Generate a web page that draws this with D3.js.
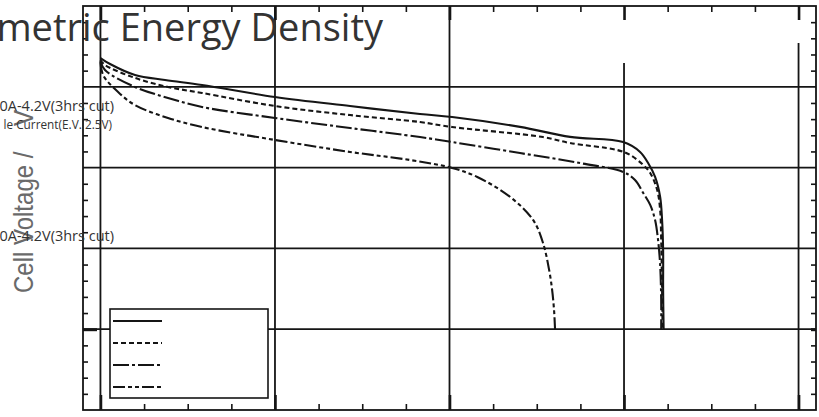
<!DOCTYPE html>
<html><head><meta charset="utf-8">
<script src="https://cdn.jsdelivr.net/npm/d3@7"></script>
<style>body{margin:0;background:#fff}svg{display:block}</style>
</head><body>
<svg id="c" width="819" height="417"></svg>
<script>
// ---- data (capacity mAh, cell voltage V) ----
const seriesNames = ["Series A", "Series B", "Series C", "Series D"];
const capA = [0, 55, 198, 370, 582, 1000, 1430, 1831, 2015, 2404, 2691, 2995, 3092, 3138, 3178, 3207, 3218, 3224, 3224, 3227];
const voltA = [4.178, 4.141, 4.073, 4.042, 4.011, 3.937, 3.881, 3.832, 3.813, 3.752, 3.690, 3.658, 3.597, 3.528, 3.442, 3.318, 3.176, 2.990, 2.743, 2.495];
const capB = [0, 26, 198, 387, 582, 1000, 1430, 1831, 2015, 2536, 2691, 2960, 3035, 3110, 3150, 3190, 3207, 3213, 3218, 3221];
const voltB = [4.166, 4.135, 4.055, 3.999, 3.962, 3.881, 3.825, 3.782, 3.751, 3.689, 3.652, 3.609, 3.578, 3.516, 3.467, 3.361, 3.238, 3.052, 2.743, 2.495];
const capC = [0, 26, 198, 387, 582, 1000, 1430, 1831, 2015, 2404, 2748, 2995, 3063, 3110, 3150, 3178, 3195, 3207, 3213, 3213];
const voltC = [4.160, 4.104, 3.999, 3.931, 3.875, 3.807, 3.745, 3.689, 3.658, 3.590, 3.528, 3.473, 3.423, 3.343, 3.269, 3.176, 3.052, 2.897, 2.681, 2.495];
const capD = [0, 15, 101, 198, 387, 582, 1000, 1430, 1774, 2015, 2159, 2348, 2479, 2536, 2571, 2588, 2599, 2605];
const voltD = [4.153, 4.073, 3.968, 3.887, 3.807, 3.751, 3.671, 3.597, 3.547, 3.498, 3.442, 3.318, 3.176, 3.033, 2.866, 2.743, 2.619, 2.495];

const xMajorTicks = [0, 1000, 2000, 3000, 4000];
const xMinorTicks = [250, 500, 750, 1250, 1500, 1750, 2250, 2500, 2750, 3250, 3500, 3750];
const yMajorTicks = [2.5, 3.0, 3.5, 4.0];
const yMinorTicks = [2.1,2.2,2.3,2.4,2.6,2.7,2.8,2.9,3.1,3.2,3.3,3.4,3.6,3.7,3.8,3.9,4.1,4.2,4.3,4.4];
// top end of the vertical grid lines (V); some are broken at the top in the original
const xGridTopV = [4.5, 4.5, 4.5, 4.147, 4.271];

const titleText = "metric Energy Density";
const noteTexts = ["0A-4.2V(3hrs cut)", "le Current(E.V. 2.5V)", "0A-4.2V(3hrs cut)"];
const yLabel = "Cell Voltage /";
const yUnit = "V";

// ---- layout ----
const L = 83, R = 816, T = 6, B = 410;
const svg = d3.select("#c");
const x = d3.scaleLinear().domain([-100, 4100]).range([L, R]);
const y = d3.scaleLinear().domain([2.0, 4.5]).range([B, T]);
const ink = "#151515";

// grid
svg.append("g").selectAll("line").data(xMajorTicks).join("line")
  .attr("x1", d => x(d)).attr("x2", d => x(d))
  .attr("y1", (d, i) => y(xGridTopV[i])).attr("y2", B)
  .attr("stroke", ink).attr("stroke-width", 1.8);
svg.append("g").selectAll("line").data(yMajorTicks).join("line")
  .attr("x1", L).attr("x2", R).attr("y1", d => y(d)).attr("y2", d => y(d))
  .attr("stroke", ink).attr("stroke-width", 1.8);

// axes (ticks pointing inward)
function styleAxis(g) {
  g.select(".domain").remove();
  g.selectAll("line").attr("stroke", ink).attr("stroke-width", 1.6);
}
svg.append("g").attr("transform", `translate(0,${B})`)
  .call(d3.axisBottom(x).tickValues(xMinorTicks).tickSize(-6).tickFormat("")).call(styleAxis);
svg.append("g").attr("transform", `translate(0,${B})`)
  .call(d3.axisBottom(x).tickValues(xMajorTicks).tickSize(-15).tickFormat("")).call(styleAxis)
  .selectAll("line").attr("stroke-width", 2.6);
svg.append("g").attr("transform", `translate(0,${T})`)
  .call(d3.axisTop(x).tickValues(xMinorTicks).tickSize(-6).tickFormat("")).call(styleAxis);
svg.append("g").attr("transform", `translate(0,${T})`)
  .call(d3.axisTop(x).tickValues(xMajorTicks).tickSize(-14).tickFormat("")).call(styleAxis)
  .selectAll("line").attr("stroke-width", 2.6);
svg.append("g").attr("transform", `translate(${L},0)`)
  .call(d3.axisLeft(y).tickValues(yMinorTicks).tickSize(-5).tickFormat("")).call(styleAxis);
svg.append("g").attr("transform", `translate(${L},0)`)
  .call(d3.axisLeft(y).tickValues([2.5]).tickSize(-14).tickFormat("")).call(styleAxis)
  .selectAll("line").attr("stroke-width", 3);
svg.append("g").attr("transform", `translate(${R},0)`)
  .call(d3.axisRight(y).tickValues(yMinorTicks).tickSize(-5).tickFormat("")).call(styleAxis);
svg.append("g").attr("transform", `translate(${R},0)`)
  .call(d3.axisRight(y).tickValues([2.5]).tickSize(-5).tickFormat("")).call(styleAxis)
  .selectAll("line").attr("stroke-width", 3);

// frame
svg.append("rect").attr("x", L).attr("y", T).attr("width", R - L).attr("height", B - T)
  .attr("fill", "none").attr("stroke", ink).attr("stroke-width", 1.8);

// curves
const dashes = [null, "5,3", "16,3,3,3", "12,3,4,3,4,3"];
const series = [[capA, voltA], [capB, voltB], [capC, voltC], [capD, voltD]];
const line = d3.line().x(d => x(d[0])).y(d => y(d[1])).curve(d3.curveCatmullRom.alpha(0.5));
series.forEach((s, i) => {
  const pts = s[0].map((c, k) => [c, s[1][k]]);
  svg.append("path").datum(pts).attr("d", line)
    .attr("fill", "none").attr("stroke", ink).attr("stroke-width", 2.1)
    .attr("stroke-dasharray", dashes[i]);
});

// legend (no labels in the original)
svg.append("rect").attr("x", 110).attr("y", 309).attr("width", 158).attr("height", 89)
  .attr("fill", "#fff").attr("stroke", ink).attr("stroke-width", 1.6);
seriesNames.forEach((n, i) => {
  svg.append("line").attr("x1", 113).attr("x2", 162)
    .attr("y1", 321 + i * 22).attr("y2", 321 + i * 22)
    .attr("stroke", ink).attr("stroke-width", 2).attr("stroke-dasharray", dashes[i]);
});

// y label
svg.append("text").attr("transform", "translate(33,293) rotate(-90) scale(1,1.15)")
  .attr("font-family", "Liberation Sans, Arial, sans-serif").attr("font-size", 24)
  .attr("fill", "#6a6a6a").text(yLabel);
svg.append("text").attr("transform", "translate(33,126) rotate(-90) scale(1,1.15)")
  .attr("font-family", "Liberation Sans, Arial, sans-serif").attr("font-size", 24)
  .attr("fill", "#6a6a6a").text(yUnit);

// overlaid texts
svg.append("text").attr("x", 383).attr("y", 41).attr("text-anchor", "end")
  .attr("font-family", "Open Sans, sans-serif").attr("font-size", 38).attr("fill", "#333")
  .text(titleText);
svg.append("text").attr("x", 114).attr("y", 111).attr("text-anchor", "end")
  .attr("font-family", "Open Sans, sans-serif").attr("font-size", 14.5).attr("fill", "#333")
  .text(noteTexts[0]);
svg.append("text").attr("x", 112).attr("y", 129).attr("text-anchor", "end")
  .attr("font-family", "Open Sans, sans-serif").attr("font-size", 11.8).attr("fill", "#333")
  .text(noteTexts[1]);
svg.append("text").attr("x", 114).attr("y", 241).attr("text-anchor", "end")
  .attr("font-family", "Open Sans, sans-serif").attr("font-size", 14.5).attr("fill", "#333")
  .text(noteTexts[2]);
</script>
</body></html>
